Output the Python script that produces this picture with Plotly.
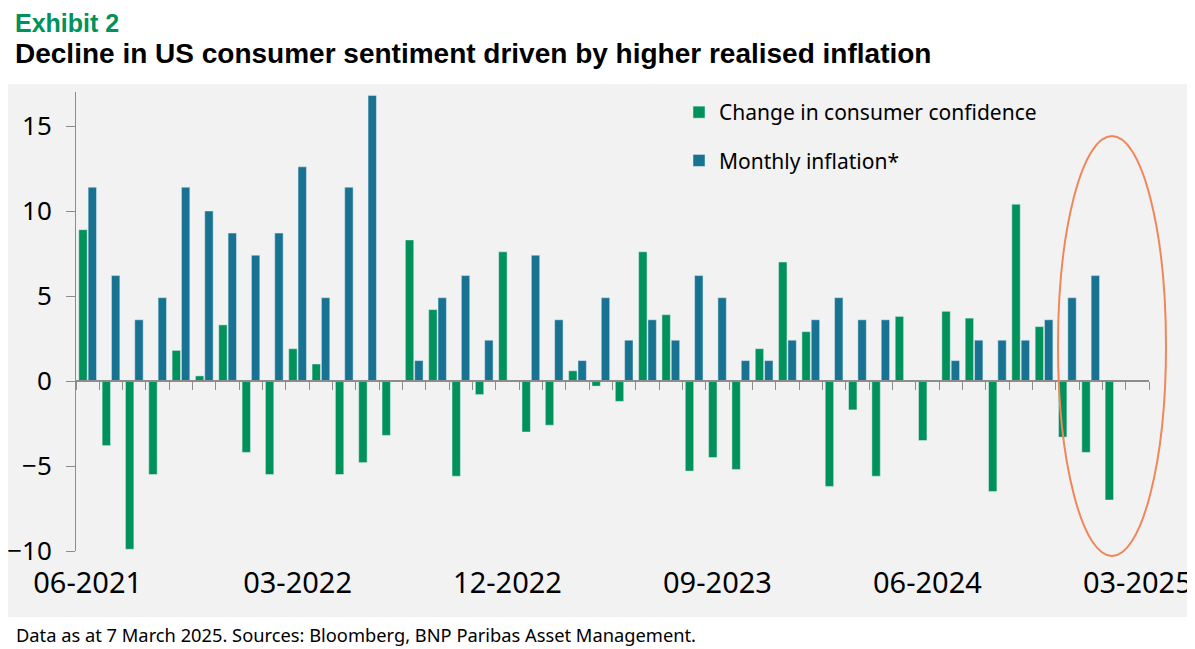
import plotly.graph_objects as go

# 月份类别（最后一个月暂无数据）
months = [
    "06-2021", "07-2021", "08-2021", "09-2021", "10-2021", "11-2021", "12-2021",
    "01-2022", "02-2022", "03-2022", "04-2022", "05-2022", "06-2022", "07-2022",
    "08-2022", "09-2022", "10-2022", "11-2022", "12-2022", "01-2023", "02-2023",
    "03-2023", "04-2023", "05-2023", "06-2023", "07-2023", "08-2023", "09-2023",
    "10-2023", "11-2023", "12-2023", "01-2024", "02-2024", "03-2024", "04-2024",
    "05-2024", "06-2024", "07-2024", "08-2024", "09-2024", "10-2024", "11-2024",
    "12-2024", "01-2025", "02-2025", "03-2025",
]

confidence_change = [
    8.9, -3.8, -9.9, -5.5, 1.8, 0.3, 3.3, -4.2, -5.5, 1.9, 1.0, -5.5, -4.8,
    -3.2, 8.3, 4.2, -5.6, -0.8, 7.6, -3.0, -2.6, 0.6, -0.3, -1.2, 7.6, 3.9,
    -5.3, -4.5, -5.2, 1.9, 7.0, 2.9, -6.2, -1.7, -5.6, 3.8, -3.5, 4.1, 3.7,
    -6.5, 10.4, 3.2, -3.3, -4.2, -7.0, None,
]

monthly_inflation = [
    11.4, 6.2, 3.6, 4.9, 11.4, 10.0, 8.7, 7.4, 8.7, 12.6, 4.9, 11.4, 16.8,
    0.0, 1.2, 4.9, 6.2, 2.4, 0.0, 7.4, 3.6, 1.2, 4.9, 2.4, 3.6, 2.4, 6.2,
    4.9, 1.2, 1.2, 2.4, 3.6, 4.9, 3.6, 3.6, 0.0, 0.0, 1.2, 2.4, 2.4, 2.4,
    3.6, 4.9, 6.2, None, None,
]

tick_labels = ["06-2021", "03-2022", "12-2022", "09-2023", "06-2024", "03-2025"]
y_ticks = [-10, -5, 0, 5, 10, 15]

GREEN = "#00925a"
BLUE = "#177391"
ORANGE = "#f0875a"
BG = "#f2f2f2"
AXIS = "#8c8c8c"
FONT = "Noto Sans"
TITLE_FONT = "Liberation Sans"

# 页面像素布局（页面 body 默认有 8px 外边距）
PAGE_W, PAGE_H = 1195, 649
BODY = 8
PLOT_L, PLOT_R, PLOT_T, PLOT_B = 76, 1149, 92, 551
Y_MIN, Y_MAX = -10, 17
FIG_W, FIG_H = PAGE_W - BODY, PAGE_H - BODY


def px_x(px):
    return (px - PLOT_L) / (PLOT_R - PLOT_L)


def px_y(py):
    return (PLOT_B - py) / (PLOT_B - PLOT_T)


fig = go.Figure()

fig.add_trace(
    go.Bar(
        x=months,
        y=confidence_change,
        name="Change in consumer confidence",
        marker_color=GREEN,
        legendgroup="a",
    )
)
fig.add_trace(
    go.Bar(
        x=months,
        y=monthly_inflation,
        name="Monthly inflation*",
        marker_color=BLUE,
        legendgroup="b",
    )
)
# 零轴（带刻度）用的辅助轨迹
fig.add_trace(
    go.Scatter(
        x=months,
        y=[None] * len(months),
        xaxis="x2",
        showlegend=False,
        hoverinfo="skip",
    )
)

fig.update_layout(
    width=FIG_W,
    height=FIG_H,
    margin=dict(
        l=PLOT_L - BODY,
        r=FIG_W - (PLOT_R - BODY),
        t=PLOT_T - BODY,
        b=FIG_H - (PLOT_B - BODY),
        autoexpand=False,
    ),
    paper_bgcolor="white",
    plot_bgcolor="rgba(0,0,0,0)",
    font=dict(family=FONT, color="black"),
    barmode="group",
    bargap=0.2,
    bargroupgap=0.1,
    xaxis=dict(
        type="category",
        categoryorder="array",
        categoryarray=months,
        range=[-0.5, len(months) - 0.5],
        tickvals=tick_labels,
        ticktext=tick_labels,
        ticks="outside",
        ticklen=6,
        tickcolor="rgba(0,0,0,0)",
        showline=False,
        showgrid=False,
        zeroline=False,
        automargin=False,
        tickfont=dict(size=29, family=FONT),
    ),
    xaxis2=dict(
        type="category",
        categoryorder="array",
        categoryarray=months,
        range=[-0.5, len(months) - 0.5],
        overlaying="x",
        anchor="free",
        position=(0 - Y_MIN) / (Y_MAX - Y_MIN),
        showline=True,
        linecolor=AXIS,
        linewidth=1.5,
        ticks="outside",
        ticklen=8,
        tickcolor=AXIS,
        tickson="boundaries",
        dtick=1,
        showticklabels=False,
        showgrid=False,
        zeroline=False,
        automargin=False,
    ),
    yaxis=dict(
        range=[Y_MIN, Y_MAX],
        domain=[0, 1],
        tickvals=y_ticks,
        ticks="outside",
        ticklen=9,
        tickcolor=AXIS,
        showline=True,
        linecolor=AXIS,
        linewidth=1,
        showgrid=False,
        zeroline=False,
        automargin=False,
        ticklabelstandoff=9,
        tickfont=dict(size=26, family=FONT),
    ),
    legend=dict(
        x=px_x(679),
        y=px_y(92),
        xanchor="left",
        yanchor="top",
        bgcolor="rgba(0,0,0,0)",
        font=dict(size=21, family=FONT),
        traceorder="grouped",
        tracegroupgap=18,
    ),
    showlegend=True,
)

# 灰色背景区域
fig.add_shape(
    type="rect",
    xref="paper",
    yref="paper",
    x0=px_x(0),
    x1=px_x(PAGE_W + 5),
    y0=px_y(617),
    y1=px_y(84),
    fillcolor=BG,
    line=dict(width=0),
    layer="below",
)

# 橙色椭圆
fig.add_shape(
    type="circle",
    xref="paper",
    yref="paper",
    x0=px_x(1058),
    x1=px_x(1166),
    y0=px_y(556),
    y1=px_y(136),
    line=dict(color=ORANGE, width=2),
    fillcolor="rgba(0,0,0,0)",
)

# 标题与脚注
fig.add_annotation(
    text="<b>Exhibit 2</b>",
    xref="paper",
    yref="paper",
    x=px_x(14),
    y=px_y(23),
    xanchor="left",
    yanchor="middle",
    borderpad=0,
    showarrow=False,
    font=dict(size=25, color=GREEN, family=TITLE_FONT),
)
fig.add_annotation(
    text="<b>Decline in US consumer sentiment driven by higher realised inflation</b>",
    xref="paper",
    yref="paper",
    x=px_x(14),
    y=px_y(53),
    xanchor="left",
    yanchor="middle",
    borderpad=0,
    showarrow=False,
    font=dict(size=28, color="black", family=TITLE_FONT),
)
fig.add_annotation(
    text="Data as at 7 March 2025. Sources: Bloomberg, BNP Paribas Asset Management.",
    xref="paper",
    yref="paper",
    x=px_x(14),
    y=px_y(634),
    xanchor="left",
    yanchor="middle",
    showarrow=False,
    font=dict(size=18.3, color="black", family=FONT),
)

fig.write_html("out.html")
